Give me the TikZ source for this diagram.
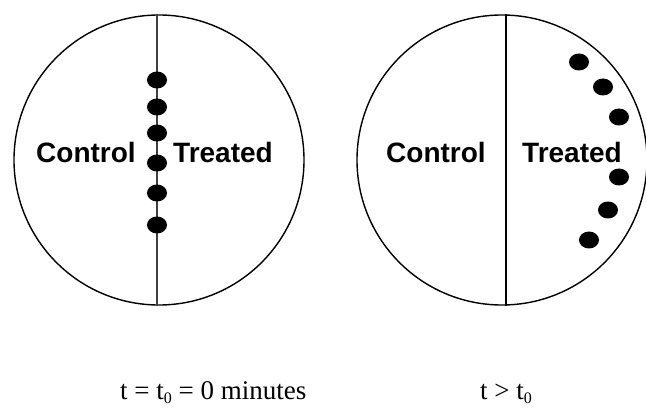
\documentclass[tikz,border=0pt]{standalone}
\usepackage{fontspec}
\usetikzlibrary{shapes.geometric}
\setmainfont{Liberation Serif}
\newfontfamily\arialfont{Liberation Sans}
\newcommand{\lowsub}[1]{\raisebox{-4pt}{\fontsize{16}{18}\selectfont #1}}
\begin{document}
\begin{tikzpicture}[x=1pt,y=-1pt,
  dish/.style={draw=black,line width=1.4pt},
  divider/.style={draw=black!75,line width=1.4pt},
  spot/.style={ellipse,fill=black,minimum width=20pt,minimum height=17pt,inner sep=0pt},
  side/.style={font=\arialfont\bfseries\fontsize{28}{32}\selectfont,inner sep=0pt},
  caption/.style={font=\fontsize{27}{30}\selectfont,inner sep=0pt,anchor=base west}]
\useasboundingbox (0,0) rectangle (646,409);
\fill[white] (0,0) rectangle (646,409);
% left dish
\node[dish,circle,minimum size=290pt,inner sep=0pt] (dishA) at (159,160) {};
\draw[divider] (dishA.north -| 157,0) -- (dishA.south -| 157,0);
\node[side] (ctrlA) at (86,152) {Control};
\node[side] (treatA) at (223,152) {Treated};
\foreach \y [count=\i] in {80,107,133,163,193,225}
  \node[spot] (sA\i) at (157,\y) {};
% right dish
\node[dish,circle,minimum size=290pt,inner sep=0pt] (dishB) at (502,160) {};
\draw[divider,draw=black] (dishB.north -| 506,0) -- (dishB.south -| 506,0);
\node[side] (ctrlB) at (436,152) {Control};
\node[side] (treatB) at (572,152) {Treated};
\foreach \x/\y [count=\i] in {579/62,603/87,619/117,619/177,608/210,589/240}
  \node[spot] (sB\i) at (\x,\y) {};
% captions
\node[caption] (capA) at (120,399) {t = t\lowsub{0} = 0 minutes};
\node[caption] (capB) at (480,399) {t {\textgreater} t\lowsub{0}};
\end{tikzpicture}
\end{document}
